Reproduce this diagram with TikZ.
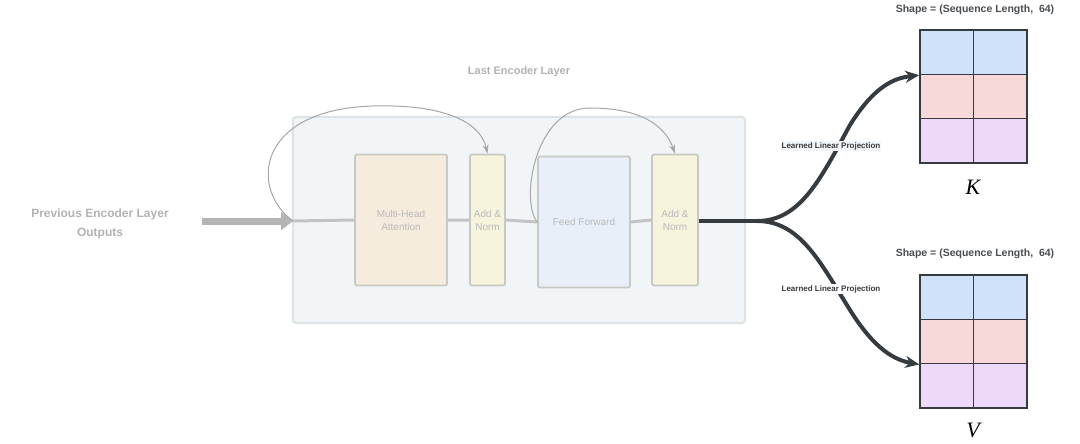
\documentclass[tikz,border=0pt]{standalone}
\usepackage{fontspec}
\setmainfont{Liberation Sans}
\usetikzlibrary{arrows.meta}
\definecolor{faint}{HTML}{B4B4B4}
\definecolor{dark}{HTML}{363B40}
\definecolor{cb}{HTML}{CFE2FA}
\definecolor{cp}{HTML}{F8D9D9}
\definecolor{cv}{HTML}{EED9FA}
\definecolor{fmha}{HTML}{F5ECDD}
\definecolor{fan}{HTML}{F6F4DC}
\definecolor{fff}{HTML}{E8EFF8}
\definecolor{bord}{HTML}{C8C8C4}
\definecolor{encf}{HTML}{F2F5F7}
\definecolor{encd}{HTML}{DDE2E5}
\tikzset{
 blk/.style={draw=bord, line width=1.8pt, rounded corners=2pt, fill=#1, inner sep=0pt, text=gray!55, align=center, font=\fontsize{10}{13}\selectfont},
 cell/.style={draw=dark, line width=1.6pt, fill=#1, minimum width=53.5pt, minimum height=44.3pt, inner sep=0pt},
 lbl/.style={font=\bfseries\fontsize{8}{9}\selectfont, text=dark},
 shp/.style={font=\bfseries\fontsize{10.5}{12}\selectfont, text=dark!90},
 skip/.style={draw=gray!70, line width=1pt, -{Stealth[length=9pt,width=6pt]}},
 proj/.style={draw=dark, line width=4pt, -{Stealth[length=14pt,width=12pt]}}
}
\begin{document}
\begin{tikzpicture}[x=1pt,y=-1pt]
\useasboundingbox (0,0) rectangle (1080,444);
\node[draw=encd, line width=2pt, fill=encf, rounded corners=3pt, minimum width=452pt, minimum height=206pt, inner sep=0pt] (enc) at (519,220) {};
\node[font=\bfseries\fontsize{11}{13}\selectfont, text=gray!60] (title) at (519,72) {Last Encoder Layer};
\node[blk=fmha, minimum width=92pt, minimum height=131pt] (mha) at (401,220) {Multi-Head\\Attention};
\node[blk=fan, minimum width=35pt, minimum height=131pt] (an1) at (487.5,220) {Add \&\\Norm};
\node[blk=fff, minimum width=92pt, minimum height=131pt] (ff) at (584,222) {Feed Forward};
\node[blk=fan, minimum width=46pt, minimum height=131pt] (an2) at (675,220) {Add \&\\Norm};
\coordinate (in) at (293,221);
\coordinate (src) at (202,221);
\coordinate (split) at (757,221);
\node[font=\bfseries\fontsize{12}{19}\selectfont, text=gray!60, align=center] (prev) at (100,224) {Previous Encoder Layer\\Outputs};
\draw[faint!80, line width=3pt] (in) -- (mha.west) (mha.east) -- (an1.west) (an1.east) -- (ff.west) (ff.east) -- (an2.west);
\draw[faint, line width=7pt, -{Triangle[length=12pt,width=18pt]}] (src) -- (in);
\draw[skip] (in) .. controls (250,190) and (255,110) .. (372,106) .. controls (440,104) and (480,120) .. (an1.north);
\draw[skip] (ff.west) .. controls (520,200) and (535,108) .. (590,108) .. controls (640,108) and (665,125) .. (an2.north);
\foreach \r/\c in {0/cb,1/cp,2/cv}{
 \node[cell=\c] (k\r a) at (946.75,{52.2+44.3*\r}) {};
 \node[cell=\c] (k\r b) at (1000.25,{52.2+44.3*\r}) {};
 \node[cell=\c] (v\r a) at (946.75,{297.2+44.3*\r}) {};
 \node[cell=\c] (v\r b) at (1000.25,{297.2+44.3*\r}) {};
}
\draw[dark, line width=4pt] (an2.east |- split) -- (split);
\draw[proj] (split) .. controls (800,221) and (820,180) .. (850,125) .. controls (875,85) and (895,78) .. (k0a.south west);
\draw[proj] (split) .. controls (800,221) and (820,262) .. (850,310) .. controls (875,350) and (895,360) .. (v1a.south west);
\node[lbl, fill=encf, inner sep=1pt] (lk) at (831,146) {Learned Linear Projection};
\node[lbl, fill=white, inner sep=1pt] (lv) at (831,289) {Learned Linear Projection};
\node[shp] (sk) at (975,10) {Shape = (Sequence Length,\ \ 64)};
\node[shp] (sv) at (975,254) {Shape = (Sequence Length,\ \ 64)};
\node[font=\fontspec{Liberation Serif}\itshape\fontsize{22}{24}\selectfont] (K) at (973,187) {K};
\node[font=\fontspec{Liberation Serif}\itshape\fontsize{22}{24}\selectfont] (V) at (973,430) {V};
\end{tikzpicture}
\end{document}
